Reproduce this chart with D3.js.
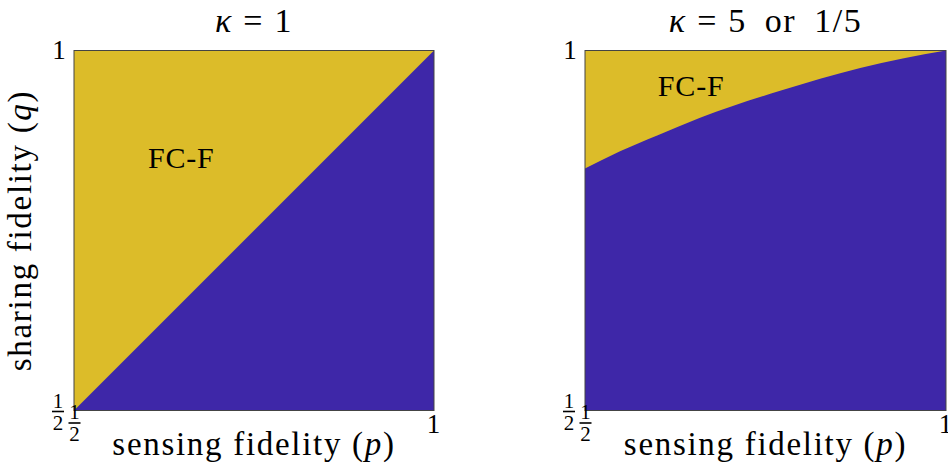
<!DOCTYPE html>
<html>
<head>
<meta charset="utf-8">
<script src="https://cdn.jsdelivr.net/npm/d3@7"></script>
<style>
  body { margin: 0; background: #fff; }
  svg text { font-family: "Liberation Serif", "DejaVu Serif", serif; fill: #000; }
</style>
</head>
<body>
<div id="chart"></div>
<script>
// boundary between the two regions (p, q)
const boundaryK1 = [[0.5, 0.5], [1, 1]];
const boundaryK5 = [[0.5, 0.836], [0.5485, 0.860], [0.6, 0.882], [0.6594, 0.9065],
                    [0.7703, 0.944], [0.8812, 0.9756], [0.94, 0.989], [1, 1]];
const titleValues = ['1', '5 or 1/5'];
const regionLabel = 'FC-F';
const labelPos = [[0.649, 0.851], [0.647, 0.951]];  // centre of "FC-F", in (p, q)
const tickValues = [0.5, 1];

const width = 948, height = 466;
const yellow = '#dcbc29', blue = '#3e27a8';
const serif = '"Liberation Serif", "DejaVu Serif", serif';

const svg = d3.select('#chart').append('svg')
    .attr('width', width).attr('height', height);

const panels = [
  { left: 74, right: 434, boundary: boundaryK1 },
  { left: 585, right: 946, boundary: boundaryK5 }
];
const plotTop = 50.5, plotBottom = 410.5;

// stacked 1 over 2, bar at (x, y)
function fraction(g, x, y, size) {
  g.append('text').attr('x', x).attr('y', y - 4).attr('text-anchor', 'middle')
    .attr('font-family', serif).style('font-size', size + 'px').text('1');
  g.append('line').attr('x1', x - 6).attr('x2', x + 6)
    .attr('y1', y).attr('y2', y).attr('stroke', '#000').attr('stroke-width', 1.6);
  g.append('text').attr('x', x).attr('y', y + 18).attr('text-anchor', 'middle')
    .attr('font-family', serif).style('font-size', size + 'px').text('2');
}

panels.forEach((pn, i) => {
  const x = d3.scaleLinear().domain([0.5, 1]).range([pn.left, pn.right]);
  const y = d3.scaleLinear().domain([0.5, 1]).range([plotBottom, plotTop]);
  const g = svg.append('g');

  // blue background
  g.append('rect').attr('x', x(0.5)).attr('y', y(1))
    .attr('width', x(1) - x(0.5)).attr('height', y(0.5) - y(1))
    .attr('fill', blue);

  // yellow region above boundary
  g.append('path')
    .attr('d', d3.line().x(d => x(d[0])).y(d => y(d[1])).curve(d3.curveMonotoneX)(pn.boundary)
      + `L${x(1)},${y(1)}L${x(0.5)},${y(1)}Z`)
    .attr('fill', yellow);

  // box
  g.append('rect').attr('x', x(0.5)).attr('y', y(1))
    .attr('width', x(1) - x(0.5)).attr('height', y(0.5) - y(1))
    .attr('fill', 'none').attr('stroke', '#444').attr('stroke-width', 1);

  // axes (ticks rendered as fractions / "1")
  const xAxis = g.append('g').attr('transform', `translate(0,${plotBottom})`)
    .call(d3.axisBottom(x).tickValues(tickValues).tickSize(0).tickFormat(''));
  const yAxis = g.append('g').attr('transform', `translate(${pn.left},0)`)
    .call(d3.axisLeft(y).tickValues(tickValues).tickSize(0).tickFormat(''));
  xAxis.select('.domain').remove();
  yAxis.select('.domain').remove();

  xAxis.selectAll('.tick').each(function (d) {
    const t = d3.select(this);
    if (d === 1) {
      t.append('text').attr('x', -1).attr('y', 22).attr('text-anchor', 'middle')
        .attr('font-family', serif).style('font-size', '27px').text('1');
    } else {
      fraction(t, 0, 12.5, 21);
    }
  });
  yAxis.selectAll('.tick').each(function (d) {
    const t = d3.select(this);
    if (d === 1) {
      t.append('text').attr('x', -15).attr('y', 8).attr('text-anchor', 'middle')
        .attr('font-family', serif).style('font-size', '27px').text('1');
    } else {
      fraction(t, -16, 0.5, 21);
    }
  });

  // title
  const cx = (pn.left + pn.right) / 2;
  const tt = g.append('text').attr('x', cx).attr('y', 32).attr('text-anchor', 'middle')
    .attr('font-family', serif).style('font-size', '34px');
  tt.append('tspan').style('font-style', 'italic').text('κ');
  tt.append('tspan').attr('dx', 12).text('=');
  tt.append('tspan').attr('dx', 12)
    .style('word-spacing', '8px').style('letter-spacing', '1.5px').text(titleValues[i]);

  // x label
  const xl = g.append('text').attr('x', cx).attr('y', 455).attr('text-anchor', 'middle')
    .attr('font-family', serif).style('font-size', '33px').style('letter-spacing', '1.7px');
  xl.append('tspan').text('sensing fidelity (');
  xl.append('tspan').style('font-style', 'italic').text('p');
  xl.append('tspan').text(')');

  // region label
  g.append('text').attr('x', x(labelPos[i][0])).attr('y', y(labelPos[i][1]) + 10)
    .attr('text-anchor', 'middle').attr('font-family', serif)
    .style('font-size', '30px').style('letter-spacing', '0.8px').text(regionLabel);
});

// y label
const yl = svg.append('text')
  .attr('transform', `translate(31,${(plotTop + plotBottom) / 2}) rotate(-90)`)
  .attr('text-anchor', 'middle').attr('font-family', serif)
  .style('font-size', '33px').style('letter-spacing', '1.7px');
yl.append('tspan').text('sharing fidelity (');
yl.append('tspan').style('font-style', 'italic').text('q');
yl.append('tspan').text(')');
</script>
</body>
</html>
